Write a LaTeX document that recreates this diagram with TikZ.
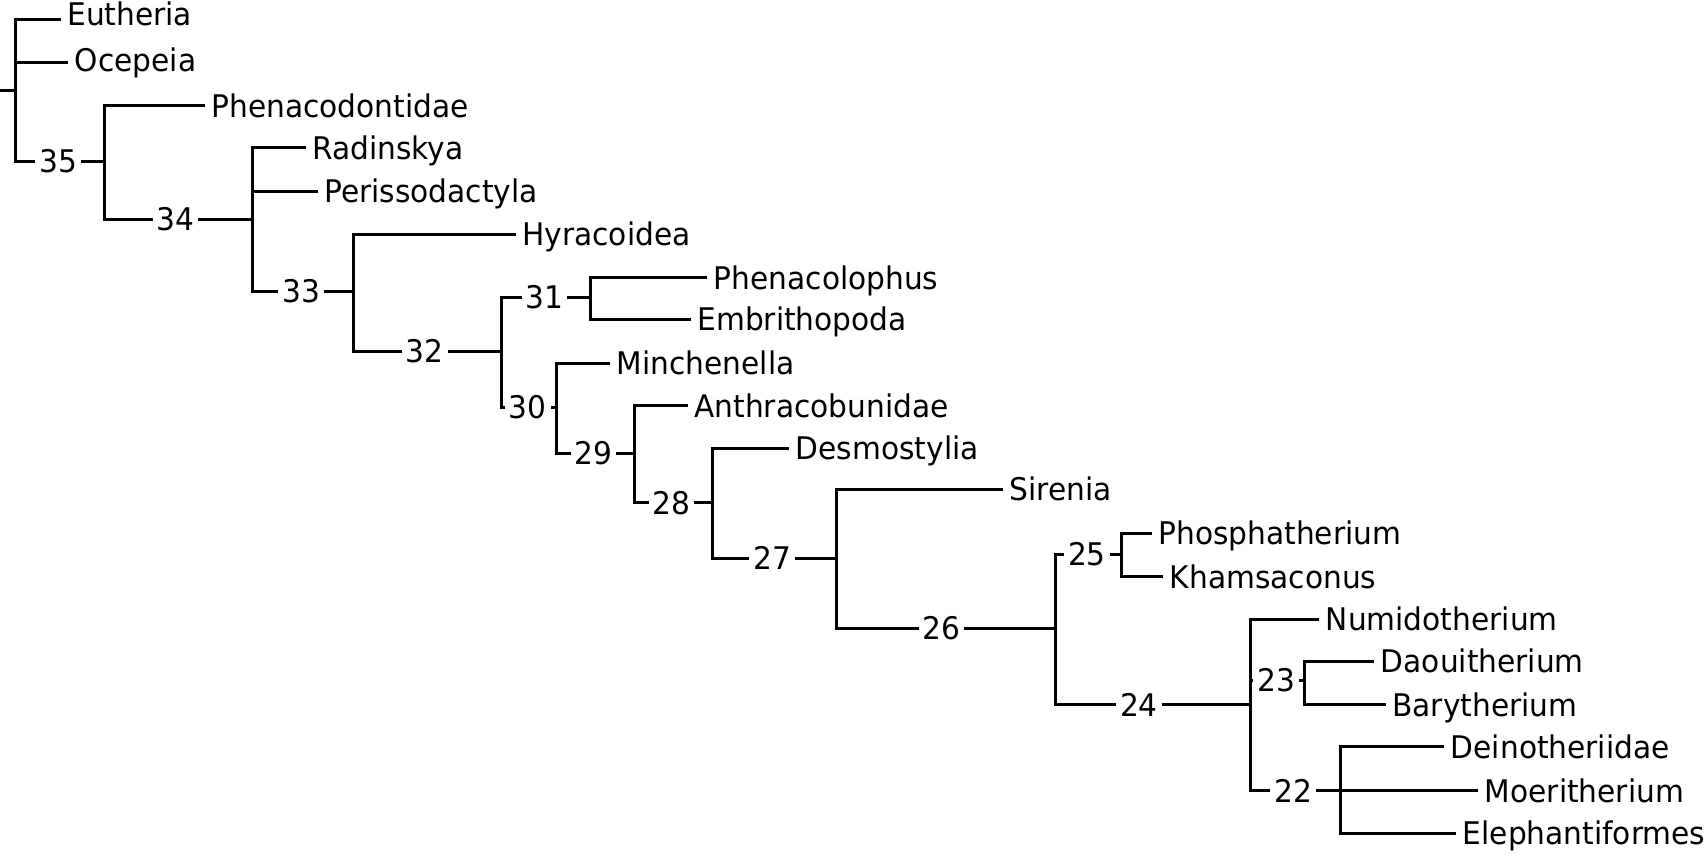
\documentclass[tikz,border=0pt]{standalone}
\usepackage{fontspec}
\setmainfont{DejaVu Sans}[FakeStretch=0.95]

\begin{document}
\begin{tikzpicture}[x=0.5pt, y=-0.5pt, font=\fontsize{15.6}{19}\selectfont,
  taxon/.style={anchor=west, inner xsep=3.25pt, inner ysep=0pt, text height=11.4pt, text depth=0pt},
  clade/.style={pos=.74, fill=white, inner xsep=2pt, inner ysep=1pt, text height=11.4pt, text depth=0pt},
  branch/.style={line width=1.5pt}]
  \useasboundingbox (0,0) rectangle (1707,856);

  \coordinate (base) at (0,90.5);
  \coordinate (root) at (15.5,90.5);
  \coordinate (n35) at (104.4,161.5);
  \coordinate (n34) at (252.5,219);
  \coordinate (n33) at (353.7,291);
  \coordinate (n32) at (501.8,351.2);
  \coordinate (n31) at (590.5,297.3);
  \coordinate (n30) at (556,407);
  \coordinate (n29) at (634,453);
  \coordinate (n28) at (712.3,502.7);
  \coordinate (n27) at (836.8,558.4);
  \coordinate (n26) at (1055,628.3);
  \coordinate (n25) at (1121.5,554.3);
  \coordinate (n24) at (1250,704.7);
  \coordinate (n23) at (1304.5,680.5);
  \coordinate (n22) at (1340,790.7);

  \node[taxon, text depth=6pt] (eutheria) at (60.5,20) {Eutheria};
  \node[taxon, text depth=2.6pt] (ocepeia) at (68,62.7) {Ocepeia};
  \node[taxon] (phenacodontidae) at (204.5,106) {Phenacodontidae};
  \node[taxon] (radinskya) at (305.5,147.7) {Radinskya};
  \node[taxon] (perissodactyla) at (317.5,191.3) {Perissodactyla};
  \node[taxon] (hyracoidea) at (515.5,234.3) {Hyracoidea};
  \node[taxon] (phenacolophus) at (707,277.7) {Phenacolophus};
  \node[taxon] (embrithopoda) at (690.5,319) {Embrithopoda};
  \node[taxon] (minchenella) at (610,363) {Minchenella};
  \node[taxon] (anthracobunidae) at (687.5,405.7) {Anthracobunidae};
  \node[taxon] (desmostylia) at (789,448.3) {Desmostylia};
  \node[taxon] (sirenia) at (1002.5,489.5) {Sirenia};
  \node[taxon] (phosphatherium) at (1151.5,533.3) {Phosphatherium};
  \node[taxon] (khamsaconus) at (1163,576.7) {Khamsaconus};
  \node[taxon] (numidotherium) at (1319,619) {Numidotherium};
  \node[taxon] (daouitherium) at (1374,661) {Daouitherium};
  \node[taxon] (barytherium) at (1385.5,704.7) {Barytherium};
  \node[taxon] (deinotheriidae) at (1444,746.7) {Deinotheriidae};
  \node[taxon] (moeritherium) at (1478,790.7) {Moeritherium};
  \node[taxon] (elephantiformes) at (1456,833.3) {Elephantiformes};

  \draw[branch] (base) -- (root);
  \draw[branch] (root) |- (eutheria.west);
  \draw[branch] (root) |- (ocepeia.west);
  \draw[branch] (root) |- node[clade] {35} (n35);
  \draw[branch] (n35) |- (phenacodontidae.west);
  \draw[branch] (n35) |- node[clade] {34} (n34);
  \draw[branch] (n34) |- (radinskya.west);
  \draw[branch] (n34) |- (perissodactyla.west);
  \draw[branch] (n34) |- node[clade] {33} (n33);
  \draw[branch] (n33) |- (hyracoidea.west);
  \draw[branch] (n33) |- node[clade] {32} (n32);
  \draw[branch] (n32) |- node[clade] {31} (n31);
  \draw[branch] (n31) |- (phenacolophus.west);
  \draw[branch] (n31) |- (embrithopoda.west);
  \draw[branch] (n32) |- node[clade] {30} (n30);
  \draw[branch] (n30) |- (minchenella.west);
  \draw[branch] (n30) |- node[clade] {29} (n29);
  \draw[branch] (n29) |- (anthracobunidae.west);
  \draw[branch] (n29) |- node[clade] {28} (n28);
  \draw[branch] (n28) |- (desmostylia.west);
  \draw[branch] (n28) |- node[clade] {27} (n27);
  \draw[branch] (n27) |- (sirenia.west);
  \draw[branch] (n27) |- node[clade] {26} (n26);
  \draw[branch] (n26) |- node[clade] {25} (n25);
  \draw[branch] (n25) |- (phosphatherium.west);
  \draw[branch] (n25) |- (khamsaconus.west);
  \draw[branch] (n26) |- node[clade, pos=.715] {24} (n24);
  \draw[branch] (n24) |- (numidotherium.west);
  \draw[branch] (n24) |- node[clade] {23} (n23);
  \draw[branch] (n23) |- (daouitherium.west);
  \draw[branch] (n23) |- (barytherium.west);
  \draw[branch] (n24) |- node[clade] {22} (n22);
  \draw[branch] (n22) |- (deinotheriidae.west);
  \draw[branch] (n22) |- (moeritherium.west);
  \draw[branch] (n22) |- (elephantiformes.west);
\end{tikzpicture}
\end{document}
